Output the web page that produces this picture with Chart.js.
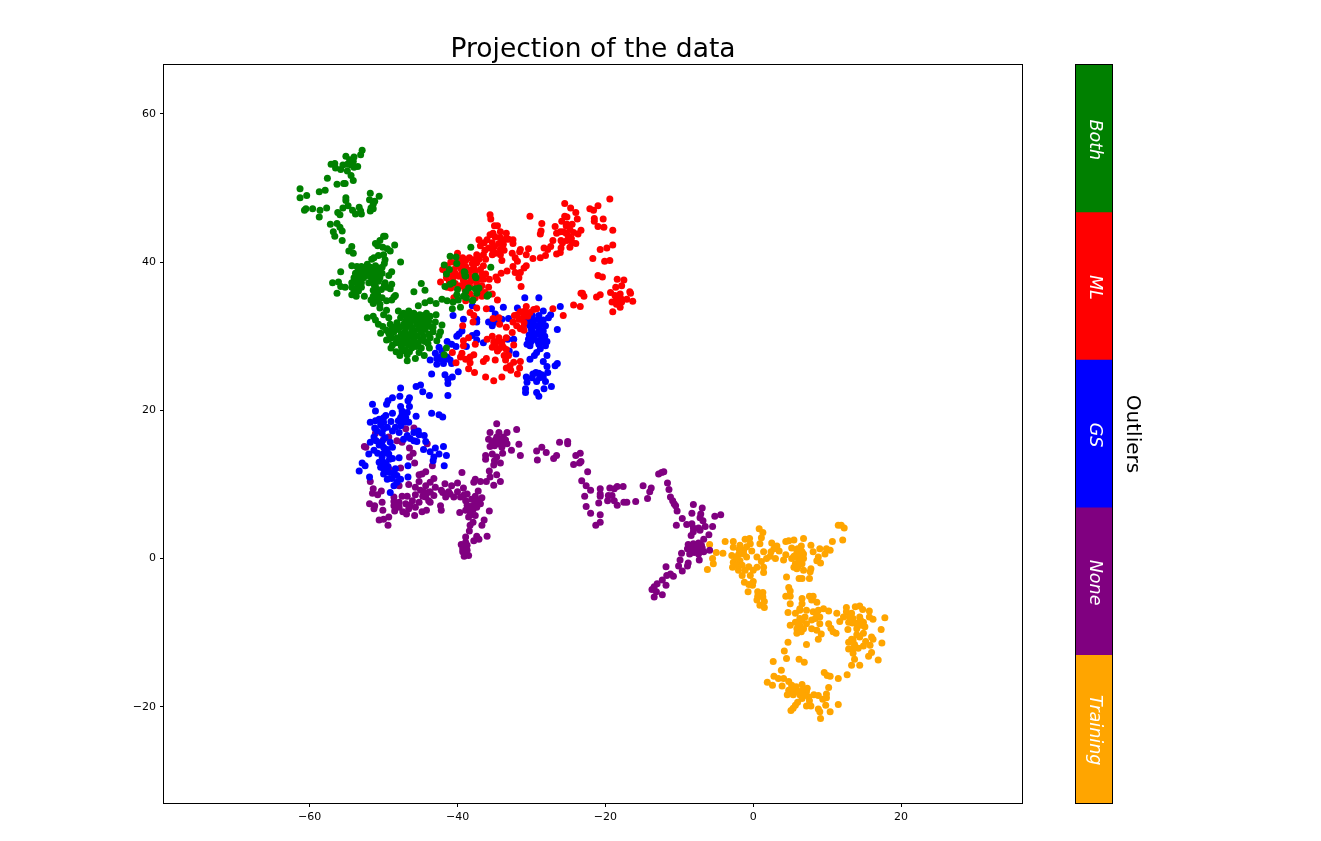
<!DOCTYPE html>
<html>
<head>
<meta charset="utf-8">
<title>Projection of the data</title>
<script src="https://cdn.jsdelivr.net/npm/chart.js@4"></script>
<style>
    body { margin: 0; background: #fff; }
    #main { position: absolute; left: 0; top: 0; }
    #bar { position: absolute; left: 1065px; top: 54px; }
</style>
</head>
<body>
<canvas id="main" width="1321" height="841"></canvas>
<canvas id="bar" width="90" height="759"></canvas>
<script>
const titleText = 'Projection of the data';
const classNames = ['Both', 'ML', 'GS', 'None', 'Training'];
const classColors = ['green', 'red', 'blue', 'purple', 'orange'];
const xTicks = [-60, -40, -20, 0, 20];
const yTicks = [-20, 0, 20, 40, 60];

// [x, y]
const bothPoints = [
[-52.9,55.1],[-53.1,54.5],[-54,54.2],[-55.1,54.3],[-54.6,53.8],[-54.1,53.6],[-54.4,53.1],[-54.9,53.2],[-53.5,52.9],[-54,52.8],[-55.5,53.1],[-55.8,52.5],[-56.6,53.3],[-57.1,53.2],[-56.5,52.7],[-54.9,52.3],[-54.4,51.7],[-54.1,51],[-57.6,51.3],[-56.3,50.5],[-55.4,50.6],[-55.2,50.6],
[-61.3,49.9],[-60.4,49],[-61.3,48.7],[-58.7,49.5],[-57.9,49.7],[-55.1,48.7],[-55.1,48.3],[-51.8,49.3],[-50.6,48.9],[-51.9,48.4],[-51.2,48.2],[-51.4,47.8],[-51.7,47.3],[-51.4,47.2],[-51.8,46.9],[-60.5,47.2],[-60.7,47],[-59.6,47.2],[-58.6,47],[-57.7,47.3],[-58.7,46.1],[-55.5,47.3],[-54.8,47.6],[-54.2,47],[-53.3,47.4],[-53.8,46.5],[-53.1,46.9],[-53,46.5],[-56.2,46.7],[-55.9,46.4],
[-57.2,45.1],[-56.3,45.2],[-55.9,44.7],[-55.6,44.2],[-56.8,44.1],[-56.6,43.5],[-55.6,42.9],[-49.8,43.5],[-50,43.5],[-50.5,42.9],[-51.1,42.5],[-50.8,42.2],[-48.5,42.3],[-50.1,42],[-49.5,41.8],[-49.1,41.5],[-54.3,42.1],[-54.7,41.5],[-54.1,41.2],
[-51.3,40.6],[-51.6,40.4],[-50.7,40.9],[-50,41],[-49.8,40.3],[-47.7,40],[-49.9,39.8],[-50.2,39.3],[-54.3,39.5],[-53.6,39.4],[-53,39.4],[-52.2,39.7],[-51.8,39.3],[-51.1,39.5],[-50.7,39.2],[-48.9,38.7],[-49.3,38.2],[-55.8,38.7],[-53.8,38.5],[-53.4,38.5],[-52.9,38.5],[-52.2,38.8],[-51.6,38.7],[-50.9,38.5],[-50.2,38.5],[-54,37.9],[-53.4,38.1],[-52.7,37.9],[-51.8,38.1],[-51.1,37.9],[-50.5,37.9],[-52,37.2],[-50.7,37.4],
[-56.9,37.2],[-56.1,37.3],[-55.8,36.7],[-55.2,36.6],[-56.3,35.8],[-54.3,37.2],[-53.6,37.2],[-54.3,36.6],[-53.6,36.5],[-54,36.1],[-53.4,36.1],[-54.3,35.6],[-53.7,35.4],[-49.8,37.2],[-48.9,37],[-49.6,36.6],[-49.1,36.4],[-51.1,36.7],[-51.4,36.2],[-52.6,35.4],[-51.4,35.4],[-50.8,35.6],[-51.7,34.9],[-50.9,34.8],[-50.2,35.2],[-51.4,34.4],[-50.5,34.3],[-49.6,34.8],[-48.9,34.9],[-48.4,35.5],[-48.6,35.3],
[-45.9,36],[-44.9,37.1],[-44.4,36.2],[-45.3,34.1],[-44.4,34.5],[-43.7,34.8],[-42.9,34.4],[-49.6,33.5],[-50.5,33.8],[-50,32.9],[-49.3,32.5],[-52.2,32.5],[-51.4,32.7],[-51.1,32.2],[-50.7,31.6],[-50.1,31.3],[-50.4,30.4],
[-48,33.4],[-47.3,33.1],[-46.6,33.4],[-45.9,33.1],[-45.1,32.9],[-44.2,33.1],[-43.7,32.7],[-42.9,32.9],[-47.7,32.5],[-46.8,32.5],[-45.9,32.2],[-44.8,32.5],[-43.9,32],[-43,31.9],[-42.1,31.5],[-49.1,31.6],[-48.2,31.8],[-47.3,31.6],[-46.4,31.6],[-45.5,31.6],[-44.6,31.6],[-43.7,31.3],[-49.3,30.4],[-48.6,30.6],[-48,30.9],[-47.1,30.6],[-46.2,30.6],[-45.3,30.9],[-44.4,30.9],[-43.3,30.6],[-42.3,30.6],[-42.5,30.1],[-49.6,29.5],[-48.9,29.8],[-48.2,29.8],[-47.3,29.8],[-46.4,30],[-45.5,30],[-44.6,30],[-43.7,29.8],[-42.8,29.4],[-48.3,29.1],[-47.1,29.1],[-46.2,29.1],[-45.3,29.1],[-44.4,29.3],[-43.8,28.4],[-49,28.4],[-48.3,27.9],[-47.8,27.4],[-47.1,28.2],[-46.2,28.4],[-46.8,27.5],[-45.7,27],[-46.8,26.7],[-44.5,27.4],[-41.8,27.5],[-41.5,28.4],
[-38.2,42],[-41,40.8],[-40.2,40.7],[-40.1,39.8],[-41.8,39.6],[-41.1,39],[-41.5,38.4],[-39.1,38.7],[-39,38.2],[-37.5,37.9],[-40.6,37.2],[-41,37],[-41.7,36.7],[-40,36.3],[-40.1,35.6],[-38.5,36.5],[-37.3,36.3],[-38.9,36],[-38,34.8],[-42.1,35],[-41.4,34.8],[-40.6,34.6],[-39.9,34.9],[-38.8,35.2],[-40.7,33.7],[-39.6,33.9],[-39.2,35.4],
[-35.5,39.3],[-36,35.4],[-35.8,35.6],[-37.9,34.9],[-37.6,38.1],[-39,38.6],[-38.9,38.1],[-37.1,36.5],[-37.6,36.4],[-37.4,35.8],
[-47.5,32.9],[-46.9,33],[-46.2,32.8],[-45.5,32.6],[-44.6,32.8],[-47,32],[-46.5,32],[-45.6,32],[-45,32],[-44.3,32.3],[-48.6,31.2],[-47.8,31.2],[-47,31.1],[-46.1,31.1],[-45.1,31.2],[-44.2,31.5],[-49.6,30.8],[-48.9,30.9],[-47.6,30.3],[-46.7,30.2],[-45.9,30.4],[-44.9,30.5],[-43.9,30.3],[-43.3,31.2],[-49.3,29.6],[-47.7,29.4],[-46.8,29.6],[-45.9,29.6],[-44.9,29.5],[-44,29],[-48.8,28.8],[-47.6,28.6],[-46.6,28.8],[-45.6,28.6],[-44.9,28.4],[-47.5,28],[-46.5,27.9],[-45.2,27.8],
[-53.4,39],[-52.6,39],[-51.4,38.9],[-50.6,38.9],[-53.2,37.9],[-52.3,38.2],[-51.5,38.3],[-50.8,38.2],[-53,37.2],[-51.6,37.5],[-53.9,37.7],[-53,36.6],[-51.3,37],[-50.9,36.2],[-50.3,36.3],[-49.9,36.9]
];

const mlPoints = [
[-19.4,48.5],[-25.5,47.9],[-24.7,47.3],[-24,46.7],[-22.1,47.2],[-21.6,47],[-21,47.6],[-23.8,45.8],[-25.5,46.2],[-25.2,46.1],[-30.2,46.2],[-21.5,45.9],[-21.5,45.5],[-20.3,45.8],[-21,44.8],[-20.2,44.7],[-19,44.3],[-25.9,45.5],[-25.2,45.1],[-24.5,45.1],[-26.8,44.8],[-28.6,45.2],[-28.7,44.2],[-28.8,43.8],[-24.8,44.4],[-23.3,44.3],[-23.7,43.8],[-25.7,44.1],[-26.6,43.9],[-26.1,44.1],[-25,43.5],[-27.1,42.9],[-26,42.9],[-25.2,42.9],[-24.5,42.6],[-24,42.5],[-24.8,42],[-26,41.9],[-26.1,41.3],[-26.6,41.1],[-27.4,42.1],[-28.3,41.9],[-27.8,41.7],[-28.1,40.9],[-28.8,40.6],[-29.8,40.5],[-30.4,41.8],[-30.7,41],[-31.5,41.7],[-31.6,41.4],[-32.5,43],[-32.5,42.5],[-32.6,41.2],
[-35.6,46.4],[-35.5,45.8],[-35,44.9],[-34.6,44.9],[-34.2,44.1],[-33.4,43.9],[-35.6,43.7],[-34.9,43.4],[-34.2,43.3],[-33.5,43.1],[-37.1,43],[-36.4,42.6],[-36.9,42.2],[-35.3,42.6],[-34.4,42.5],[-33.8,42.4],[-35.2,41.6],[-34.2,41.7],[-33.7,41.6],[-37.4,41],[-36.5,41],[-35.3,41],[-34.2,41],[-34,40.2],[-37.1,40.4],[-36.2,40.4],[-32.2,40.6],[-31.9,40.1],[-32.5,39.4],[-30.7,39.5],[-31,39.2],[-33.3,38.8],[-34.1,38.5],[-32.2,38.6],[-31.5,38.6],[-31.7,37.9],[-34.8,38],[-34.6,37.6],[-31.4,36.7],
[-40,41.2],[-39.3,40.6],[-38.4,40.6],[-40.3,39.9],[-39.4,39.9],[-38,39.8],[-37.4,39.9],[-36.5,39.5],[-42,39],[-40.5,39],[-39.6,39.2],[-38.3,38.9],[-36.9,39],[-41,38.4],[-39.8,38.1],[-38.3,38.1],[-36.2,38.4],[-42.3,37.3],[-39.2,37.5],[-38.3,37.3],[-37.4,37.7],[-36.5,37.7],[-35.7,37.7],[-41.4,36.6],[-39.6,36.8],[-38.3,36.6],[-36.7,36.8],[-35.8,36.6],[-35.3,35.7],[-34.6,34.9],[-38.3,35.7],[-38.9,34.8],[-36.7,35.4],[-40.5,35.2],
[-18.4,37.7],[-17.5,37.6],[-17.8,36.8],[-18.6,36.6],[-16.7,36],[-16.6,35.8],[-19.3,35.9],[-18.7,35.5],[-18,35.7],[-18.5,35],[-17.8,35],[-17.1,35],[-16.3,34.7],[-19.1,34.6],[-18.5,34.3],[-17.8,34.6],[-18,33.9],[-19,33.3],[-21,38.2],[-20.4,38],[-20.7,41.7],[-19.8,41.9],[-19,42.3],[-21.7,40.5],[-20.1,40.1],[-19.4,40.2],[-23.1,35.8],[-23.3,35.8],[-22.9,35.4],[-21.2,35.3],[-20.7,35.6],[-24.3,34.2],[-23.4,34],[-25.7,32.8],[-27.1,33.7],
[-30.7,34],[-29.3,33.7],[-29.7,33.6],[-30.2,33.2],[-30.5,32.7],[-31.5,33.3],[-32.3,32.8],[-31.7,32.3],[-31,31.8],[-32,31.4],[-31.5,31],[-31,30.8],[-35.2,32.4],[-34.4,32.5],[-34.3,31.6],[-33.4,31.2],[-32.6,30.5],[-37.4,33.8],[-36.1,33.7],[-37.9,31.9],[-37.8,32.8],[-38.3,33.2],[-39.3,31.4],[-38.5,29.8],[-39.2,29.4],[-39.2,28.7],[-37.6,28.9],[-36,29.6],[-35.3,30],[-34.4,29.8],[-33.4,29.8],[-35.1,29.2],[-34,29.2],[-35.3,28.5],[-34.4,28.3],[-33.8,28.5],[-32.4,28.8],[-34.6,28],[-33.7,27.4],[-33.1,27.4],[-33.5,26.8],
[-40.7,27.8],[-39.4,27.7],[-37.8,27.5],[-38.3,27.2],[-39.6,27.2],[-38.9,26.9],[-40.2,26.4],[-38.3,26.4],[-36.5,26.6],[-36.1,27],[-34.9,26.8],[-38.5,25.6],[-37.7,25.1],[-32.4,26.5],[-31.5,26.6],[-32.9,26],[-33.4,25.7],[-32.8,25.4],[-31.6,25.7],[-31.9,24.9],[-36.2,24.5],[-34,24.5],[-35.1,24],
[-40.9,40],[-39.8,40.3],[-38.9,40.2],[-37.9,40.3],[-41.4,39.5],[-39.9,39.5],[-38.9,39.4],[-37.8,39.2],[-41.6,38.8],[-40.3,38.5],[-39.4,38.6],[-37.6,38.7],[-36.7,38.4],[-41.5,37.9],[-40.6,37.9],[-39.1,37.9],[-37.9,37.6],[-36.9,37.7],[-41.1,37.3],[-40.3,37.1],[-38.8,37],[-37.4,37],[-40.9,36.5],[-40,36.7],[-39,36.3],[-36.9,36.1],[-38.9,35.7],[-37.6,35.2],[-36.3,35.9],
[-36,43],[-35,42.1],[-33.9,42.9],[-35.8,41.9],[-34.9,41.2],[-36.3,41.6],[-33.1,43.1],[-35.2,43.9],[-25.3,44.9],[-24.3,44],[-25.3,43.9],[-24.6,43.2],[-25.8,42.6],
[-31,32.7],[-30.9,33.4],[-31.9,32.9],[-31.4,32.3],[-32.5,31.9],[-31.1,31.2],[-34.7,29.3],[-34,28.8],[-33.4,28.2],[-34.9,28.8]
];

const gsPoints = [
[-30.9,35.2],[-29,35.2],[-26.1,34],[-33.8,33.9],[-31.9,33.8],[-35.4,33.7],[-38,34.1],[-28.4,33.4],[-34.9,33],[-27.4,32.9],[-27.7,32.5],[-29.9,32.8],[-29,32.8],[-30.6,32.3],[-29.7,32.1],[-28.8,32.1],[-40.6,32.8],[-39.2,32.3],[-37.4,32.3],[-37.4,31.9],[-35.8,31.9],[-34.9,31.9],[-34,32.3],[-33.1,32.4],[-35.3,31.4],[-30.2,31.4],[-29.3,31.4],[-28.4,30.7],[-26.5,30.9],[-29.9,30.7],[-29.3,30.3],[-39.4,30.7],[-39.8,30.3],[-40.1,30],[-37.4,30.4],[-38,30.1],[-37.4,29.5],[-36.5,29.1],[-32.4,29.6],[-33.2,29.6],[-30.4,29.6],[-28.6,29.8],[-27.9,29.3],[-30.6,28.9],[-30.2,28.7],[-29,28.9],[-28.1,28.7],[-38.8,28.6],[-41.4,29.3],[-40.8,28.9],[-40.2,28.6],[-33,28],[-32.1,27.6],[-28.8,28.3],[-29.3,27.8],[-29.6,27.4],[-27.9,27.4],[-30.2,26.9],
[-42.5,28.5],[-42.1,28],[-43,27.7],[-43.7,26.8],[-42.3,27.2],[-41.4,27.2],[-42.8,26.2],[-41.9,26.3],[-40.8,26.3],[-39.9,25.2],[-43.5,24.9],[-41.7,24.8],[-40.7,24.5],[-41.3,24.2],[-41.3,23.6],[-28.4,26.6],[-27.9,25.9],[-26.8,26],[-26.5,26.3],[-29.4,25.1],[-27.8,25.1],[-28.6,24.8],[-30.7,24.5],[-29.9,24.4],[-29.3,23.9],[-28.1,23.9],[-30.6,23.8],[-27.3,23.2],[-28.3,22.9],[-30.8,22.9],[-30.8,22.4],[-29.3,22.4],[-29,21.9],[-44.7,22.5],[-43.8,22],[-41.3,22],
[-45.6,23.2],[-45,23.4],[-47.7,23],[-51.5,20.8],[-47.8,21.9],[-48.8,21.7],[-49.4,21.3],[-49.6,20.8],[-46.5,21.7],[-46.7,21.3],[-46.5,20.5],[-47.7,20.5],[-51.1,19.9],[-47.5,19.9],[-46.8,19.7],[-43.5,19.6],[-42.5,19.4],[-42,19.1],[-45.6,19.2],[-48.8,19.6],[-49.7,19.3],[-50.6,18.8],[-51.8,18.4],[-51.1,18.6],[-50,18.4],[-47.7,19],[-47,19],[-47.3,18.4],[-51.2,17.6],[-50.4,18],[-49.5,17.7],[-48.4,17.7],[-48.8,17.2],[-50.2,16.9],[-45.9,17],[-45.2,16.7],[-44.5,16.6],[-46.8,16.6],[-47.9,17],[-47.3,16.1],[-51.3,16.4],[-51.8,15.7],[-45.9,15.9],[-45.5,15.8],[-44.3,15.8],[-50.6,15.3],[-50,15],[-49.1,15.7],[-48.8,15],[-51.3,14.6],[-52,14.1],[-49.3,14.1],[-44.6,14.7],[-43.7,14.4],[-43,14.9],[-41.9,15.1],[-42.5,14.1],[-41.5,13.9],[-43.2,13.7],[-43.3,13.2],[-47.9,13.6],[-48.8,13.5],[-50.2,13.7],[-50.6,13],[-49.7,12.8],[-52.9,12.9],[-52.5,12.5],[-46.7,12.5],[-41.8,12.5],[-53.3,11.8],[-50.4,12.3],[-49.7,12.1],[-48.4,12.1],[-50,11.4],[-49.5,10.7],[-51.9,11],[-48.2,11.2],[-47.7,10.7],[-46.7,11],[-48.2,10.3],[-48.6,9.8],[-49.1,8.9],
[-30,32],[-29.1,32.3],[-28.4,32.2],[-30.5,31.7],[-29.7,31.5],[-28.8,31.5],[-28.1,31.4],[-30,30.9],[-29,30.8],[-28.2,30],[-29.6,30.1],[-28.8,30.2],[-30.3,30.2],[-29.8,29.6],[-29.2,29.4],[-28.5,29.2],[-30.1,29.2],
[-50.9,17.2],[-50,17.5],[-51,15.9],[-50.2,15.8],[-49.8,16.3],[-49.5,14.7],[-50.8,14.2],[-50,14.2],[-49.2,13.4],[-50,13],[-49.4,12.4],[-50,12.1],[-49.2,11.6],[-48.6,11.5],[-48.9,10.8],[-47.5,19.4],[-47.2,18.9],[-48,18.6],[-47.7,17.9],[-46.6,18.4],[-50,19],[-50.3,18.5],[-49,18.5],[-46.4,16.2],[-45.3,17.2],
[-42.2,26.9],[-41.7,26.9],[-41,26.8],[-42.8,27],[-29,25],[-28.9,24.4],[-28.4,24.5],[-29.8,24.9]
];

const nonePoints = [
[-34.7,18.2],[-32,17.4],[-35.6,17],[-34.4,17],[-33.3,17],[-35.8,16.1],[-34.7,16.4],[-33.8,16.4],[-35.3,15.7],[-34.4,15.5],[-33.3,15.5],[-35.6,15.1],[-31.7,15.4],[-35,15.2],[-32.7,14.6],[-33.9,14.2],[-31.5,13.9],[-36.2,13.9],[-36.2,13.4],[-35.3,14.1],[-34.7,13.7],[-35,13.2],[-34.2,12.9],[-35.1,12.6],[-35.7,11.8],[-34.7,11.3],[-35.6,11],[-34.2,10.4],[-35.1,9.9],[-28.6,15],[-28,14.3],[-29.3,14.5],[-29.2,13.3],
[-39.4,11.6],[-37.6,10.7],[-37.8,10.3],[-36.9,10.4],[-36.1,10.4],[-40,10.2],[-41.7,10.1],[-40.8,9.8],[-39.2,9.5],[-37.2,9.1],[-42.2,9.2],[-41.2,9],[-40,9],[-38.7,8.7],[-41.6,8.3],[-40.5,8.3],[-39.6,8.3],[-37.6,8.4],[-36.7,8.2],[-38.9,7.8],[-37.6,7.6],[-36.9,7.4],[-38.7,7.2],[-37.4,6.9],[-39.7,6.2],[-38.9,6.5],[-38.3,6.3],[-35.7,6.4],[-38.5,5.6],[-37.6,5.8],[-37.9,4.9],[-36.4,5.2],[-36.7,4.5],[-38.3,4.5],[-38.4,3.7],[-37.4,3],[-36,3],[-37.8,2.4],[-37.1,2.6],[-38.9,2.9],[-38.9,2.2],[-39.5,1.9],[-38.7,1.8],[-39.3,1.3],[-38.7,1.1],[-39.1,0.3],[-38.5,0.4],
[-44.8,11.4],[-45.2,11.3],[-44.3,11.7],[-43.2,10.8],[-45.2,10.4],[-43.7,10.3],[-46.6,10],[-45.7,9.6],[-44.3,9.8],[-43,9.6],[-45,9.2],[-43.7,9],[-45.7,8.6],[-44.3,8.3],[-43.2,8.5],[-43.9,7.8],[-43.7,7.6],[-47.5,8.4],[-46.8,8.4],[-48.6,8.3],[-48.6,7.7],[-47.9,7.6],[-47,7.4],[-46.4,7.2],[-45.2,7.6],[-45.7,6.9],[-46.6,6.7],[-48.6,7.1],[-48.5,6.4],[-47.4,6.3],[-46.9,6],[-44.8,6.3],[-44.2,6.5],[-45.8,5.8],[-42.3,7.1],[-42.2,6.5],[-51.8,10.4],[-51.4,9.4],[-51.5,8.8],[-50.3,9.1],[-50.8,8.6],[-51.9,7.4],[-51.2,7.1],[-51.3,6.7],[-50.2,7.6],[-50.1,6.5],[-50.6,5.2],[-50,5.3],[-49.3,5.6],[-49.4,4.5],
[-52.4,15],[-52.6,15.1],[-47,17.5],[-45.9,17.6],[-51.1,16.9],[-50,16.1],[-49.3,16.4],[-48.2,15.9],[-47.5,15.7],[-44.1,15.5],[-46.5,14.9],[-46,14.2],[-46.5,13.7],[-45.8,12.9],[-43.4,12.5],[-47.9,9.8],[-49.3,12.1],[-47.7,12.2],
[-26.2,15.7],[-25.1,15.8],[-25.1,15.5],[-26.6,13.9],[-27,13.5],[-23.4,14.2],[-24,13.9],[-23.3,13.1],[-23.5,12.9],[-24.3,12.7],[-22.4,11.7],[-23.2,10.5],[-22.6,9.8],[-22,9.2],[-20.7,9.4],[-20.7,8.7],[-20.7,8.4],[-22.8,8.4],[-19.4,9.5],[-18.8,9.4],[-18.4,9.7],[-17.6,9.7],[-19.6,8.5],[-19.1,8.5],[-19.7,7.8],[-18.8,7.8],[-20.9,7.5],[-18.4,7.2],[-17.5,7.6],[-17.1,7.6],[-15.9,7.7],[-14.9,9.8],[-13.8,9.5],[-14,9],[-14.3,8.1],[-22.6,7],[-22,6.1],[-20.7,5.9],[-20.7,4.9],[-21.3,4.5],
[-12.8,11.4],[-12.4,11.6],[-12.1,11.7],[-11.6,10.2],[-11.4,9.3],[-11.2,8.3],[-10.9,7.8],[-10.7,7.4],[-10.5,7.1],[-10.3,6.4],[-9.6,5.4],[-10.4,4.5],[-8.1,7.3],[-8.3,6.1],[-6.9,6.8],[-7.1,6],[-7.2,5.5],[-6.8,5.1],[-5.2,5.7],[-4.4,5.9],[-9,4.6],[-8.3,4.7],[-8.1,4.1],[-7.4,4.1],[-6.5,4.3],[-5.5,4.3],[-8.1,3.6],[-8.4,3.1],[-6,3.2],[-6.7,2.6],[-8.8,1.9],[-8.1,2],[-7.4,2.1],[-7,1.8],[-9.7,0.7],[-8.9,1.3],[-8.2,1.2],[-7.4,1.2],[-6.7,0.9],[-5.9,1.1],[-8.6,0.6],[-7.4,0.6],[-9.9,-0.2],[-7.3,-0.2],[-10.1,-1],[-8.8,-0.6],[-8.9,-1],[-11.8,-1.1],[-9.6,-1.7],[-11.2,-2.1],[-10.8,-2.4],[-11.7,-2.3],[-12.3,-2.9],[-11.8,-3.6],[-13,-3.4],[-13.4,-3.8],[-13.7,-4.2],[-13.1,-4.5],[-12.3,-4.9],[-13.4,-5.2],
[-34.4,16],[-34,15.6],[-34.9,16],[-33.5,16],[-34,15],[-38.2,7],[-37.9,6.6],[-38.2,5.9],[-37.8,7.2],[-37.2,7.9],[-38.1,8],[-44.6,9],[-44,8.9],[-44.7,8.4],[-42,8.9],[-41,8.7],[-39.1,8.6],[-47.9,6.9],[-46.1,7.8],[-39,1.6],[-39.3,0.9],[-8.4,1.7],[-7.8,1.7],[-8,0.8],[-6.9,1.4],[-7.2,3.8]
];

const trainingPoints = [
[11.5,4.5],[11.9,4.5],[12.3,4.1],[12.1,2.5],[10.7,2.3],[0.8,4],[1.3,3.5],[1.1,2.8],[-0.5,2.7],[-1.1,2.6],[-2.7,2.3],[-3.8,2.3],[-5.9,1.9],[2.5,2.1],[0.9,2],[-0.4,2],[-1.8,1.8],[-2.7,1.5],[3.2,1.7],[4.4,2.3],[4.8,2.4],[5.5,2.5],[6.8,2.7],[7.8,1.8],[6.5,1.7],[5.2,1.4],[9,1.3],[9.9,1.3],[10.4,1.1],[8.1,0.9],[3.5,1],[2.4,0.9],[1.4,0.9],[-0.2,1],[-1.3,1.1],[-4.1,0.7],[-5,0.8],[-2.9,0.4],[-2,0.5],[4.4,0.5],[5.9,0.8],[6.8,0.6],[9.7,0.6],[8.8,0.2],[-0.9,0.2],[-5.5,0],[3,0],[1.8,0],[1.1,-0.4],[4.1,-0.2],[5.2,0],[6.1,0],[6.8,0],[-2.7,-0.5],[-1.8,-0.3],[-5.4,-0.7],[8.6,-0.3],[9.1,-0.6],[5.7,-0.7],[6.6,-0.7],[-2.8,-1.2],[-0.6,-1.1],[0.5,-1.2],[1.4,-1.2],[-2,-1.6],[-1.1,-1.6],[0,-1.6],[-6.2,-1.5],[5.9,-1.4],[6.8,-1.6],[7.8,-1.4],[7.7,-1.8],[1.4,-1.9],[-1.5,-2.3],[-0.4,-2.3],[4.5,-2.5],[6.2,-2.7],[6.6,-2.7],[7.6,-2.7],[-1.2,-3.2],[0,-3.1],[-0.6,-3.5],[-0.1,-3.6],[-0.7,-4.5],[0.6,-4.5],[1.3,-4.6],[0.6,-5.1],[1.3,-5.2],[0.5,-5.6],[1.5,-5.8],[0.9,-6.3],[1.5,-6.6],
[4.8,-3.9],[5,-4.4],[4.4,-5.1],[5,-5.1],[5,-6.1],[4.7,-7.3],[7.6,-5.1],[8.1,-5.1],[7.9,-5.6],[8.6,-5.9],[6.6,-5.4],[6.6,-6.1],[6.3,-6.8],[5.7,-7.4],[7.2,-7],[8.1,-7.2],[8.8,-7],[9.5,-6.8],[10.2,-7.1],[6.3,-8.1],[7,-7.9],[8.4,-8.1],[9,-7.9],[5.7,-8.6],[5,-9],[6.3,-9],[7.2,-8.8],[9,-8.8],[5.9,-9.5],[6.8,-9.5],[7.9,-9.5],[8.6,-9.7],[5.9,-10.1],[9.2,-10.2],[8.8,-10.9],[10.2,-8.8],[10.5,-9.4],[10.8,-9.9],[11.2,-10.1],[4.7,-11.3],[7.2,-11.6],[4.2,-12.5],[4.5,-13.5],[2.7,-13.9],[6.2,-13.6],[6.9,-14],
[11.3,-7.4],[12.6,-6.6],[13.8,-6.5],[14.4,-6.4],[14.8,-6.9],[12.6,-7.2],[13.3,-7.4],[15.7,-7.1],[12.2,-7.9],[13.5,-8.1],[14.4,-7.9],[17.8,-8],[11.7,-8.5],[12.9,-8.6],[13.8,-8.7],[14.9,-8.6],[15.7,-7.9],[16.2,-8.2],[15.1,-9.2],[12.8,-9.6],[14,-9.5],[17.3,-9.6],[14,-10.3],[14.9,-10.1],[14.4,-10.6],[16,-10.6],[16.2,-10.9],[12.9,-11.3],[13.5,-11],[15.2,-11.2],[17.4,-11.4],[14.9,-11.8],[14.2,-12.1],[12.9,-12.2],[15.8,-11.7],[13.5,-12.8],[16,-12.7],[15.6,-13.2],[13.7,-13.6],[16.9,-13.7],[13.3,-14.4],[14.4,-14.4],
[9.6,-15.4],[10,-15.8],[10.4,-15.9],[12.7,-15.7],[11.5,-16.2],[3.8,-15.1],[2.8,-15.9],[3.4,-16.2],[4.1,-16.2],[1.9,-16.7],[2.6,-17.1],[3.9,-17.2],[4.8,-16.6],[5.2,-17.1],[5.8,-17.3],[6.6,-17],[10.2,-17.4],[7.3,-17.5],[4.8,-17.8],[7.2,-18],[4.6,-18.4],[5.4,-18.4],[6.3,-18.4],[7.5,-18.7],[8.2,-18.4],[8.8,-18.5],[9.9,-18.3],[9.4,-19],[9.9,-18.8],[6.6,-18.9],[7.6,-19.2],[6,-19.4],[5.7,-19.8],[5.4,-20.2],[5.1,-20.5],[7.2,-19.9],[7.8,-19.9],[9.8,-19.8],[11.5,-19.7],[8.8,-20.3],[9,-20.7],[10.4,-20.7],[9.1,-21.6],
[-1.3,0.6],[-0.9,1.6],[-1.9,1.2],[-2.3,0],[0.5,0.2],[2.3,0.3],[2.8,1.3],[-2.3,-0.9],[-1.5,-0.9],[6.1,0.5],[6.4,-0.3],[5.5,0.3],[6,1.3],[6.6,0.9],[6.1,-1],[5.5,-1.2],[6.3,-7],[6,-8.7],[6.6,-8.3],[6.5,-9.9],[7.9,-8.3],[8.6,-7.6],[13,-7.9],[14,-8.8],[14.5,-8.3],[13.1,-7.9],[14.6,-9],[13.4,-8.7],[13.7,-11.6],[13.3,-10.9],[13.5,-12.1],[5.5,-18],[5.9,-18],[6.9,-18.5],[6.6,-17.8],[5.2,-17.5]
];

const classPoints = [bothPoints, mlPoints, gsPoints, nonePoints, trainingPoints];

const FONT = '"DejaVu Sans", sans-serif';
Chart.defaults.font.family = FONT;
Chart.defaults.color = '#000';

// Chart.js only draws the axis edge on one side, so box the plot here
const frame = {
    id: 'frame',
    afterDatasetsDraw(chart) {
        const a = chart.chartArea, ctx = chart.ctx;
        ctx.save();
        ctx.strokeStyle = '#000';
        ctx.lineWidth = 1;
        ctx.strokeRect(a.left - 0.5, a.top - 0.5, a.width + 1, a.height + 1);
        ctx.restore();
    }
};

// the stock title centres over the whole canvas, this one over the plot
const plotTitle = {
    id: 'plotTitle',
    afterDraw(chart) {
        const a = chart.chartArea, ctx = chart.ctx;
        ctx.save();
        ctx.fillStyle = '#000';
        ctx.font = '26.5px ' + FONT;
        ctx.textAlign = 'center';
        ctx.textBaseline = 'middle';
        ctx.fillText(titleText, (a.left + a.right) / 2, 50);
        ctx.restore();
    }
};

// Segment names on the colour bar plus the bar's own label
const barLabels = {
    id: 'barLabels',
    afterDraw(chart) {
        const ctx = chart.ctx, a = chart.chartArea, y = chart.scales.y;
        ctx.save();
        ctx.textAlign = 'center';
        ctx.textBaseline = 'middle';
        classNames.forEach((name, i) => {
            const mid = y.getPixelForValue(classNames.length - i - 0.5);
            ctx.save();
            ctx.translate((a.left + a.right) / 2 + 1, mid + 1);
            ctx.rotate(Math.PI / 2);
            ctx.fillStyle = '#fff';
            ctx.font = 'italic 17.5px ' + FONT;
            ctx.fillText(name, 0, 0);
            ctx.restore();
        });
        ctx.translate(a.right + 20, (a.top + a.bottom) / 2);
        ctx.rotate(Math.PI / 2);
        ctx.fillStyle = '#000';
        ctx.font = '20px ' + FONT;
        ctx.fillText('Outliers', 0, 0);
        ctx.restore();
    }
};

const minusSign = v => String(v).replace('-', '\u2212');

new Chart(document.getElementById('main').getContext('2d'), {
    type: 'scatter',
    // first dataset ends up on top, same stacking as the picture
    data: {
        datasets: classNames.map((name, i) => ({
            label: name,
            data: classPoints[i].map(p => ({ x: p[0], y: p[1] })),
            backgroundColor: classColors[i],
            borderWidth: 0,
            pointRadius: 3.5
        }))
    },
    options: {
        responsive: false,
        animation: false,
        devicePixelRatio: 1,
        layout: { padding: { left: 0, right: 299, top: 65, bottom: 0 } },
        plugins: { legend: { display: false } },
        scales: {
            x: {
                type: 'linear',
                min: -79.7,
                max: 36.35,
                afterFit(scale) { scale.height = 38; },
                afterBuildTicks(scale) { scale.ticks = xTicks.map(v => ({ value: v })); },
                grid: { drawOnChartArea: false, color: '#000', tickLength: 4 },
                border: { display: false },
                ticks: { maxRotation: 0, padding: 4, font: { size: 11 }, callback: minusSign }
            },
            y: {
                type: 'linear',
                min: -33,
                max: 66.6,
                afterFit(scale) { scale.width = 164; },
                afterBuildTicks(scale) { scale.ticks = yTicks.map(v => ({ value: v })); },
                grid: { drawOnChartArea: false, color: '#000', tickLength: 4 },
                border: { display: false },
                ticks: { padding: 4, font: { size: 11 }, callback: minusSign }
            }
        }
    },
    plugins: [frame, plotTitle]
});

new Chart(document.getElementById('bar').getContext('2d'), {
    type: 'bar',
    data: {
        labels: ['bar'],
        datasets: classNames.slice().reverse().map((name, i) => ({
            label: name,
            data: [1],
            backgroundColor: classColors[classNames.length - 1 - i],
            borderWidth: 0,
            barPercentage: 1,
            categoryPercentage: 1
        }))
    },
    options: {
        responsive: false,
        animation: false,
        devicePixelRatio: 1,
        layout: { padding: { left: 11, right: 43, top: 11, bottom: 10 } },
        plugins: { legend: { display: false }, tooltip: { enabled: false } },
        scales: {
            x: { stacked: true, display: false },
            y: { stacked: true, display: false, min: 0, max: classNames.length }
        }
    },
    plugins: [frame, barLabels]
});
</script>
</body>
</html>
